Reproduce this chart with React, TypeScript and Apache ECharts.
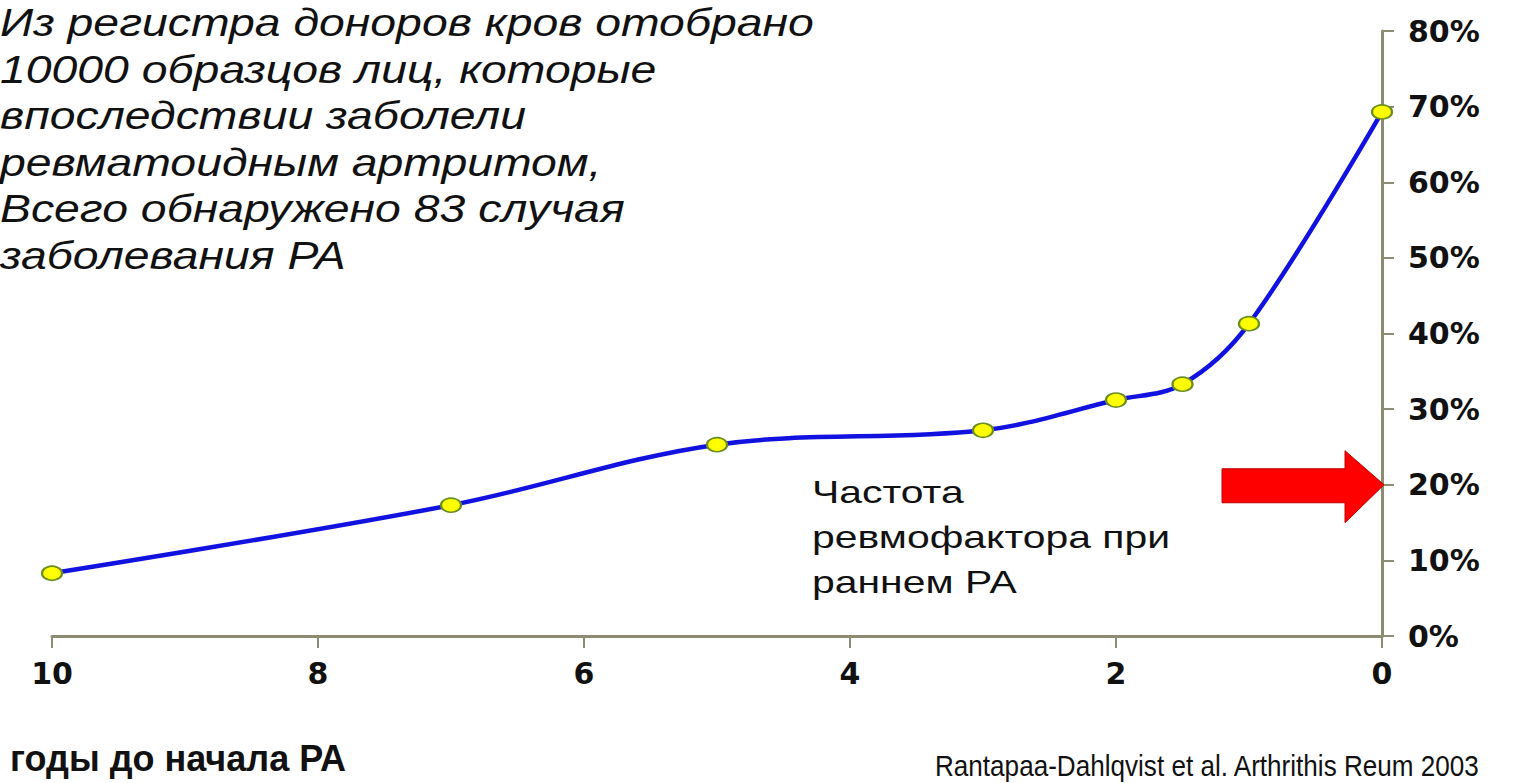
import React, { useEffect, useRef } from "react";
import * as echarts from "echarts";

const yearsBefore = [10, 7, 5, 3, 2, 1.5, 1, 0];
const rfFrequency = [8.3, 17.3, 25.3, 27.2, 31.2, 33.3, 41.3, 69.3];
const xTicks = [0, 2, 4, 6, 8, 10];
const yTicks = [0, 10, 20, 30, 40, 50, 60, 70, 80];

const introLines = [
  "Из регистра доноров кров отобрано",
  "10000 образцов лиц, которые",
  "впоследствии заболели",
  "ревматоидным артритом,",
  "Всего обнаружено 83 случая",
  "заболевания РА",
];
const noteLines = ["Частота", "ревмофактора при", "раннем РА"];
const xAxisTitle = "годы до начала РА";
const citation = "Rantapaa-Dahlqvist et al. Arthrithis Reum 2003";
const arrowLevel = 20;

export default function App() {
  const ref = useRef<HTMLDivElement>(null);
  useEffect(() => {
    if (!ref.current) return;
    const chart = echarts.init(ref.current, null, { renderer: "svg" });
    const axisColor = "#8c8c72";
    const gridLeft = 52;
    const gridRight = 136;
    const gridTop = 31;
    const gridBottom = 147;
    const W = 1518;
    const H = 783;
    const plotH = H - gridTop - gridBottom;
    const arrowY = gridTop + plotH * (1 - arrowLevel / 80);
    const axisX = W - gridRight;

    chart.setOption({
      animation: false,
      backgroundColor: "#ffffff",
      grid: { left: gridLeft, right: gridRight, top: gridTop, bottom: gridBottom },
      xAxis: {
        type: "value",
        min: 0,
        max: 10,
        interval: 2,
        inverse: true,
        axisLine: { show: true, lineStyle: { color: axisColor, width: 3 } },
        axisTick: { show: true, length: 12, lineStyle: { color: axisColor, width: 2 } },
        axisLabel: {
          margin: 22,
          color: "#111111",
          fontFamily: "DejaVu Sans",
          fontWeight: "bold",
          fontSize: 30,
          customValues: xTicks,
        },
        splitLine: { show: false },
      },
      yAxis: {
        type: "value",
        position: "right",
        min: 0,
        max: 80,
        interval: 10,
        axisLine: { show: true, lineStyle: { color: axisColor, width: 3 } },
        axisTick: { show: true, length: 12, lineStyle: { color: axisColor, width: 2 } },
        axisLabel: {
          margin: 26,
          color: "#111111",
          fontFamily: "DejaVu Sans",
          fontWeight: "bold",
          fontSize: 30,
          formatter: (v: number) => (yTicks.includes(v) ? v + "%" : ""),
        },
        splitLine: { show: false },
      },
      series: [
        {
          type: "line",
          data: yearsBefore.map((x, i) => [x, rfFrequency[i]]),
          smooth: 0.35,
          lineStyle: { color: "#1212e0", width: 4.5 },
          symbol: "circle",
          symbolSize: [20, 14],
          itemStyle: { color: "#ffff00", borderColor: "#6b8e23", borderWidth: 2 },
          z: 5,
        },
      ],
      graphic: [
        {
          type: "text",
          x: 0,
          y: 0,
          scaleX: 1.22,
          style: {
            text: introLines.join("\n"),
            font: "italic 38px 'Liberation Sans'",
            fill: "#111111",
            lineHeight: 46.5,
          },
        },
        {
          type: "text",
          x: 812,
          y: 470,
          scaleX: 1.32,
          style: {
            text: noteLines.join("\n"),
            font: "31px 'Liberation Sans'",
            fill: "#111111",
            lineHeight: 45,
          },
        },
        {
          type: "polygon",
          shape: {
            points: [
              [1222, arrowY - 16],
              [1345, arrowY - 16],
              [1345, arrowY - 34],
              [axisX + 2, arrowY],
              [1345, arrowY + 38],
              [1345, arrowY + 18],
              [1222, arrowY + 18],
            ],
          },
          style: { fill: "#ff0000", stroke: "#c00000", lineWidth: 1 },
          z: 10,
        },
        {
          type: "text",
          x: 10,
          y: 740,
          style: {
            text: xAxisTitle,
            font: "bold 36px 'Liberation Sans'",
            fill: "#111111",
          },
        },
        {
          type: "text",
          x: 935,
          y: 752,
          scaleX: 0.9,
          style: {
            text: citation,
            font: "29px 'Liberation Sans'",
            fill: "#111111",
          },
        },
      ],
    });
    return () => chart.dispose();
  }, []);
  return (
    <div
      ref={ref}
      style={{ position: "absolute", left: 0, top: 0, width: 1518, height: 783 }}
    />
  );
}
